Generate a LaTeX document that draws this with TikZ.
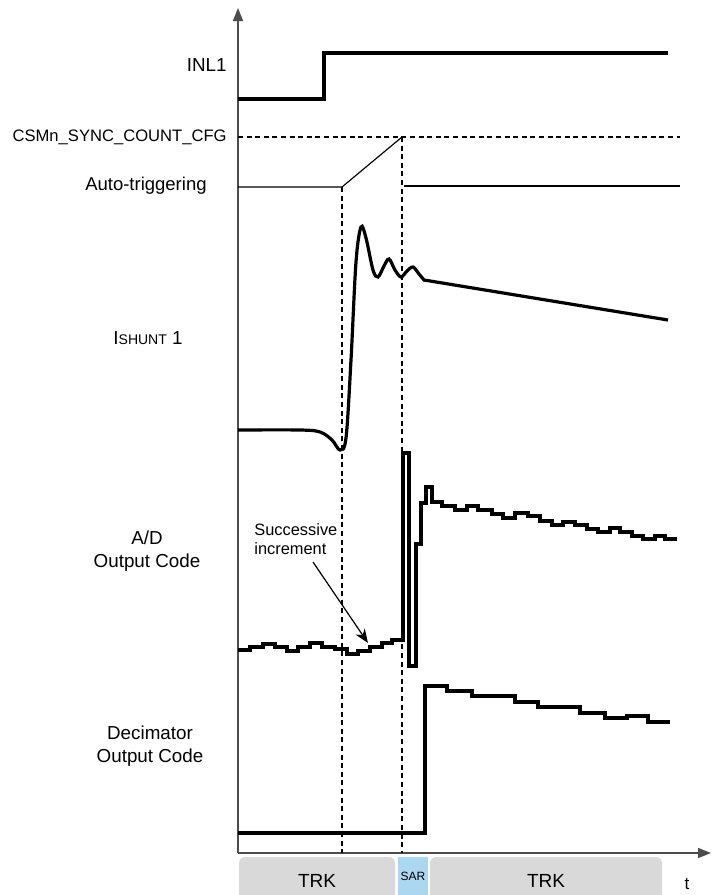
\documentclass[tikz,border=0pt]{standalone}
\usepackage{fontspec}
\setmainfont{Liberation Sans}
\usetikzlibrary{arrows.meta}
\definecolor{trkgray}{RGB}{217,217,217}
\definecolor{sarblue}{RGB}{172,215,240}
\tikzset{
	signal/.style = {line width = 1.6pt},
	guide/.style = {line width = 0.55pt, dash pattern = on 2.5pt off 1.8pt},
	axis/.style = {line width = 0.8pt, color = black!70, -{Triangle[length = 6.5pt, width = 5pt]}},
	siglabel/.style = {inner sep = 0pt, align = center, font = \fontsize{9.4}{11.5}\selectfont},
	phase/.style = {fill = trkgray, rounded corners = 3pt},
	phasetext/.style = {inner sep = 0pt, text = black, font = \fontsize{9.5}{11}\selectfont},
}
\begin{document}
\begin{tikzpicture} [x = 0.5pt, y = -0.5pt]
	\useasboundingbox (0,0) rectangle (712,895);
	% phases along the time axis
	\path [phase] (239,857) rectangle (395,900) node [phasetext, midway, yshift = -1pt] (trk1) {TRK};
	\path [fill = sarblue] (398,857) rectangle (428,895) node [phasetext, midway, font = \fontsize{6}{7}\selectfont] (sar) {SAR};
	\path [phase] (430,857) rectangle (662,900) node [phasetext, midway, yshift = -1pt] (trk2) {TRK};
	\node [phasetext, font = \fontsize{8.5}{10}\selectfont] (t) at (687,884) {t};
	% axes
	\draw [axis] (238,853) -- (711,853);
	\draw [axis] (238,853) -- (238,8);
	% labels
	\node [siglabel, anchor = east] (inl) at (227,65) {INL1};
	\node [siglabel, anchor = east, font = \fontsize{8.3}{10}\selectfont] (cfg) at (227,137) {CSMn\_SYNC\_COUNT\_CFG};
	\node [siglabel, anchor = east, font = \fontsize{9.25}{11}\selectfont] (auto) at (207,186) {Auto-triggering};
	\node [siglabel] (ishunt) at (148,338) {I{\fontsize{7}{8}\selectfont SHUNT} 1};
	\node [siglabel] (adc) at (147,551) {A/D\\Output Code};
	\node [siglabel] (dec) at (150,746) {Decimator\\Output Code};
	\node [siglabel, align = left, anchor = west, font = \fontsize{8.2}{9.5}\selectfont] (succ) at (254,539) {Successive\\increment};
	% trigger guides
	\draw [guide] (238,137) -- (680,137);
	\draw [guide] (342,187) -- (342,853);
	\draw [guide] (402,137) -- (402,853);
	% INL1
	\draw [signal] (238,99) -| (324,53) -- (668,53);
	% auto-triggering counter
	\draw [line width = 0.6pt] (238,187) -- (342,187) -- (402,137);
	\draw [line width = 0.6pt] (404,186) -- (680,186);
	% shunt current
	\draw [signal] plot [smooth, tension = 0.55] coordinates {(238,430) (300,430) (320,432) (332,440) (340,450) (346,438) (351,360) (356,262) (361,227) (366,238) (373,270) (378,277) (384,266) (389,259) (395,270) (401,277) (407,271) (413,267) (419,274) (424,280)} -- (668,320);
	% A/D output code
	\draw [signal] (238,650) -| (250,647) -| (263,644) -| (275,647) -| (287,651) -| (298,647) -| (310,643) -| (322,647) -| (335,649) -| (347,654) -| (358,651) -| (370,647) -| (382,643) -| (392,640) -| (403,453) -| (409,666) -| (416,544) -| (421,503) -| (426,487) -| (432,502) -| (442,506) -| (455,510) -| (467,506) -| (478,510) -| (492,514) -| (503,518) -| (515,513) -| (528,516) -| (540,521) -| (552,525) -| (563,522) -| (575,525) -| (587,529) -| (598,532) -| (610,528) -| (620,532) -| (632,536) -| (643,539) -| (655,536) -| (665,539) -- (677,539);
	\coordinate (incfoot) at (313,562);
	\coordinate (inctip) at (368,643);
	\draw [line width = 0.6pt, -{Stealth[length = 7pt, width = 5.5pt]}] (incfoot) -- (inctip);
	% decimator output code
	\draw [signal] (238,833) -| (425,686) -| (447,691) -| (472,696) -| (515,702) -| (538,707) -| (580,713) -| (605,718) -| (627,716) -| (648,722) -- (670,722);
\end{tikzpicture}
\end{document}
